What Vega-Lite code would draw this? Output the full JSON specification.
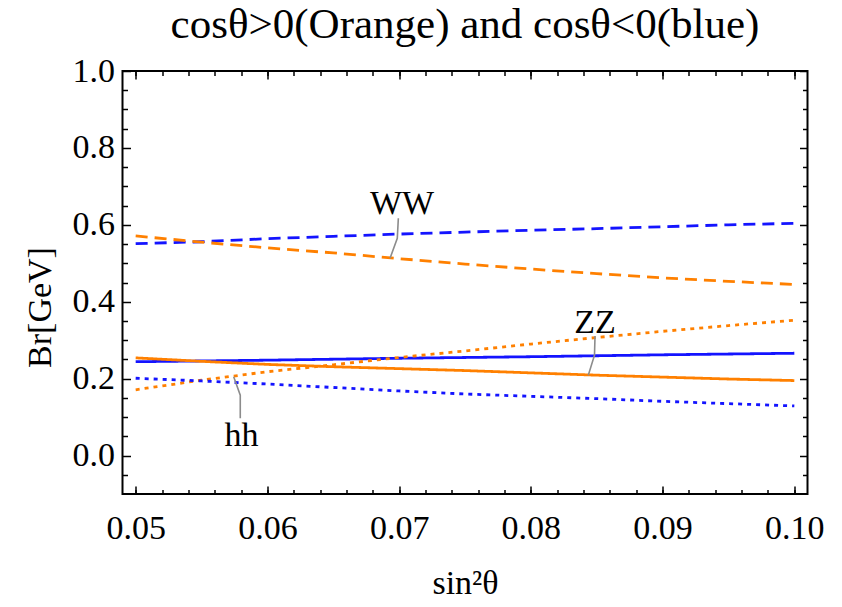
{
  "$schema": "https://vega.github.io/schema/vega-lite/v6.json",
  "autosize": {"type": "none"},
  "width": 685,
  "height": 423,
  "padding": {"left": 122.5, "top": 71, "right": 34.5, "bottom": 113},
  "background": "white",
  "config": {
    "view": {"stroke": "black", "strokeWidth": 2},
    "font": "Liberation Serif, Times New Roman, DejaVu Serif, serif",
    "axis": {"domain": false, "grid": false, "tickColor": "black", "tickWidth": 1.5, "labelFont": "Liberation Serif, Times New Roman, DejaVu Serif, serif", "labelFontSize": 34, "labelColor": "black", "titleFont": "Liberation Serif, Times New Roman, DejaVu Serif, serif", "titleFontSize": 34, "titleFontWeight": "normal", "titleColor": "black", "labelOverlap": false, "labelBound": false, "labelFlush": false}
  },
  "title": {"text": "cosθ>0(Orange) and cosθ<0(blue)", "font": "Liberation Serif, Times New Roman, DejaVu Serif, serif", "fontSize": 43, "fontWeight": "normal", "color": "black", "anchor": "middle", "frame": "group", "offset": 7},
  "datasets": {
    "curves": [
      {"x": 0.05, "y": 0.551, "s": "neg", "ch": "WW"},
      {"x": 0.055, "y": 0.556, "s": "neg", "ch": "WW"},
      {"x": 0.06, "y": 0.564, "s": "neg", "ch": "WW"},
      {"x": 0.065, "y": 0.570, "s": "neg", "ch": "WW"},
      {"x": 0.07, "y": 0.576, "s": "neg", "ch": "WW"},
      {"x": 0.075, "y": 0.581, "s": "neg", "ch": "WW"},
      {"x": 0.08, "y": 0.586, "s": "neg", "ch": "WW"},
      {"x": 0.085, "y": 0.590, "s": "neg", "ch": "WW"},
      {"x": 0.09, "y": 0.595, "s": "neg", "ch": "WW"},
      {"x": 0.095, "y": 0.600, "s": "neg", "ch": "WW"},
      {"x": 0.10, "y": 0.604, "s": "neg", "ch": "WW"},
      {"x": 0.05, "y": 0.571, "s": "pos", "ch": "WW"},
      {"x": 0.055, "y": 0.555, "s": "pos", "ch": "WW"},
      {"x": 0.06, "y": 0.540, "s": "pos", "ch": "WW"},
      {"x": 0.065, "y": 0.527, "s": "pos", "ch": "WW"},
      {"x": 0.07, "y": 0.512, "s": "pos", "ch": "WW"},
      {"x": 0.075, "y": 0.498, "s": "pos", "ch": "WW"},
      {"x": 0.08, "y": 0.485, "s": "pos", "ch": "WW"},
      {"x": 0.085, "y": 0.473, "s": "pos", "ch": "WW"},
      {"x": 0.09, "y": 0.462, "s": "pos", "ch": "WW"},
      {"x": 0.095, "y": 0.453, "s": "pos", "ch": "WW"},
      {"x": 0.10, "y": 0.445, "s": "pos", "ch": "WW"},
      {"x": 0.05, "y": 0.244, "s": "neg", "ch": "ZZ"},
      {"x": 0.06, "y": 0.248, "s": "neg", "ch": "ZZ"},
      {"x": 0.07, "y": 0.253, "s": "neg", "ch": "ZZ"},
      {"x": 0.08, "y": 0.257, "s": "neg", "ch": "ZZ"},
      {"x": 0.09, "y": 0.262, "s": "neg", "ch": "ZZ"},
      {"x": 0.10, "y": 0.266, "s": "neg", "ch": "ZZ"},
      {"x": 0.05, "y": 0.254, "s": "pos", "ch": "ZZ"},
      {"x": 0.055, "y": 0.245, "s": "pos", "ch": "ZZ"},
      {"x": 0.06, "y": 0.237, "s": "pos", "ch": "ZZ"},
      {"x": 0.065, "y": 0.231, "s": "pos", "ch": "ZZ"},
      {"x": 0.07, "y": 0.226, "s": "pos", "ch": "ZZ"},
      {"x": 0.075, "y": 0.221, "s": "pos", "ch": "ZZ"},
      {"x": 0.08, "y": 0.215, "s": "pos", "ch": "ZZ"},
      {"x": 0.085, "y": 0.209, "s": "pos", "ch": "ZZ"},
      {"x": 0.09, "y": 0.204, "s": "pos", "ch": "ZZ"},
      {"x": 0.095, "y": 0.199, "s": "pos", "ch": "ZZ"},
      {"x": 0.10, "y": 0.195, "s": "pos", "ch": "ZZ"},
      {"x": 0.05, "y": 0.171, "s": "pos", "ch": "hh"},
      {"x": 0.055, "y": 0.196, "s": "pos", "ch": "hh"},
      {"x": 0.06, "y": 0.218, "s": "pos", "ch": "hh"},
      {"x": 0.065, "y": 0.236, "s": "pos", "ch": "hh"},
      {"x": 0.07, "y": 0.255, "s": "pos", "ch": "hh"},
      {"x": 0.075, "y": 0.272, "s": "pos", "ch": "hh"},
      {"x": 0.08, "y": 0.290, "s": "pos", "ch": "hh"},
      {"x": 0.085, "y": 0.307, "s": "pos", "ch": "hh"},
      {"x": 0.09, "y": 0.323, "s": "pos", "ch": "hh"},
      {"x": 0.095, "y": 0.338, "s": "pos", "ch": "hh"},
      {"x": 0.10, "y": 0.352, "s": "pos", "ch": "hh"},
      {"x": 0.05, "y": 0.201, "s": "neg", "ch": "hh"},
      {"x": 0.055, "y": 0.194, "s": "neg", "ch": "hh"},
      {"x": 0.06, "y": 0.186, "s": "neg", "ch": "hh"},
      {"x": 0.065, "y": 0.177, "s": "neg", "ch": "hh"},
      {"x": 0.07, "y": 0.168, "s": "neg", "ch": "hh"},
      {"x": 0.075, "y": 0.160, "s": "neg", "ch": "hh"},
      {"x": 0.08, "y": 0.154, "s": "neg", "ch": "hh"},
      {"x": 0.085, "y": 0.148, "s": "neg", "ch": "hh"},
      {"x": 0.09, "y": 0.141, "s": "neg", "ch": "hh"},
      {"x": 0.095, "y": 0.135, "s": "neg", "ch": "hh"},
      {"x": 0.10, "y": 0.129, "s": "neg", "ch": "hh"}
    ],
    "leaders": [
      {"label": "WW", "o": 1, "x": 0.06994, "y": 0.617},
      {"label": "WW", "o": 2, "x": 0.06986, "y": 0.565},
      {"label": "WW", "o": 3, "x": 0.06931, "y": 0.513},
      {"label": "ZZ", "o": 1, "x": 0.08487, "y": 0.311},
      {"label": "ZZ", "o": 2, "x": 0.08483, "y": 0.261},
      {"label": "ZZ", "o": 3, "x": 0.08436, "y": 0.209},
      {"label": "hh", "o": 1, "x": 0.05744, "y": 0.205},
      {"label": "hh", "o": 2, "x": 0.05794, "y": 0.157},
      {"label": "hh", "o": 3, "x": 0.05794, "y": 0.097}
    ],
    "labels": [
      {"label": "WW", "x": 0.07022, "y": 0.655},
      {"label": "ZZ", "x": 0.08487, "y": 0.345},
      {"label": "hh", "x": 0.05803, "y": 0.051}
    ]
  },
  "resolve": {"axis": {"x": "independent", "y": "independent"}},
  "layer": [
    {
      "data": {"name": "curves"},
      "mark": {"type": "line", "strokeWidth": 2.8, "clip": true},
      "encoding": {
        "x": {"field": "x", "type": "quantitative", "scale": {"domain": [0.049, 0.101], "nice": false, "zero": false},
          "axis": {"orient": "bottom", "values": [0.05, 0.06, 0.07, 0.08, 0.09, 0.1], "format": ".2f", "tickSize": -8, "labelPadding": 25, "title": "sin²θ", "titleY": 99, "titleBaseline": "alphabetic"}},
        "y": {"field": "y", "type": "quantitative", "scale": {"domain": [-0.1, 1.0], "nice": false, "zero": false},
          "axis": {"orient": "left", "values": [0, 0.2, 0.4, 0.6, 0.8, 1.0], "format": ".1f", "tickSize": -8, "labelPadding": 16, "labelBaseline": "middle", "title": "Br[GeV]", "titleX": -82, "titleY": 236, "titleAngle": -90, "titleBaseline": "middle"}},
        "color": {"field": "s", "type": "nominal", "scale": {"domain": ["pos", "neg"], "range": ["#ff8000", "#1414ff"]}, "legend": null},
        "strokeDash": {"field": "ch", "type": "nominal", "scale": {"domain": ["WW", "ZZ", "hh"], "range": [[12, 7], [1, 0], [4, 5]]}, "legend": null},
        "detail": {"field": "ch"},
        "order": {"field": "x", "type": "quantitative"}
      }
    },
    {
      "data": {"name": "leaders"},
      "mark": {"type": "line", "color": "#8c8c8c", "strokeWidth": 1.6},
      "encoding": {
        "x": {"field": "x", "type": "quantitative", "scale": {"domain": [0.049, 0.101], "nice": false, "zero": false},
          "axis": {"orient": "top", "values": [0.05, 0.06, 0.07, 0.08, 0.09, 0.1], "tickSize": -8, "labels": false, "title": null}},
        "y": {"field": "y", "type": "quantitative", "scale": {"domain": [-0.1, 1.0], "nice": false, "zero": false},
          "axis": {"orient": "right", "values": [0, 0.2, 0.4, 0.6, 0.8, 1.0], "tickSize": -8, "labels": false, "title": null}},
        "detail": {"field": "label"},
        "order": {"field": "o", "type": "quantitative"}
      }
    },
    {
      "data": {"name": "labels"},
      "mark": {"type": "text", "font": "Liberation Serif, Times New Roman, DejaVu Serif, serif", "fontSize": 34, "color": "black", "baseline": "middle", "align": "center"},
      "encoding": {
        "x": {"field": "x", "type": "quantitative", "scale": {"domain": [0.049, 0.101], "nice": false, "zero": false},
          "axis": {"orient": "bottom", "values": [0.05, 0.052, 0.054, 0.056, 0.058, 0.06, 0.062, 0.064, 0.066, 0.068, 0.07, 0.072, 0.074, 0.076, 0.078, 0.08, 0.082, 0.084, 0.086, 0.088, 0.09, 0.092, 0.094, 0.096, 0.098, 0.1], "tickSize": -4.5, "labels": false, "title": null}},
        "y": {"field": "y", "type": "quantitative", "scale": {"domain": [-0.1, 1.0], "nice": false, "zero": false},
          "axis": {"orient": "left", "values": [-0.05, 0.05, 0.1, 0.15, 0.25, 0.3, 0.35, 0.45, 0.5, 0.55, 0.65, 0.7, 0.75, 0.85, 0.9, 0.95], "tickSize": -5, "labels": false, "title": null}},
        "text": {"field": "label"}
      }
    },
    {
      "data": {"name": "labels"},
      "mark": {"type": "point", "opacity": 0},
      "encoding": {
        "x": {"field": "x", "type": "quantitative", "scale": {"domain": [0.049, 0.101], "nice": false, "zero": false},
          "axis": {"orient": "top", "values": [0.05, 0.052, 0.054, 0.056, 0.058, 0.06, 0.062, 0.064, 0.066, 0.068, 0.07, 0.072, 0.074, 0.076, 0.078, 0.08, 0.082, 0.084, 0.086, 0.088, 0.09, 0.092, 0.094, 0.096, 0.098, 0.1], "tickSize": -4.5, "labels": false, "title": null}},
        "y": {"field": "y", "type": "quantitative", "scale": {"domain": [-0.1, 1.0], "nice": false, "zero": false},
          "axis": {"orient": "right", "values": [-0.05, 0.05, 0.1, 0.15, 0.25, 0.3, 0.35, 0.45, 0.5, 0.55, 0.65, 0.7, 0.75, 0.85, 0.9, 0.95], "tickSize": -5, "labels": false, "title": null}}
      }
    }
  ]
}
